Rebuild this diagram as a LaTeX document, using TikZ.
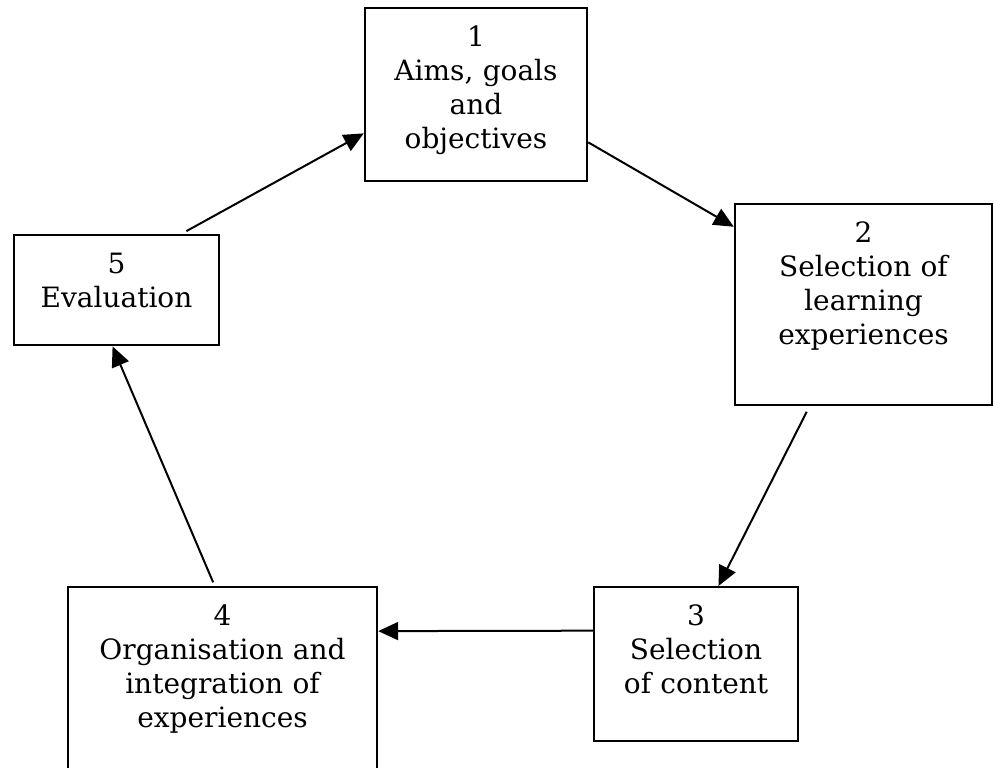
\documentclass[tikz,border=0pt]{standalone}
\usepackage{fontspec}
\setmainfont{DejaVu Serif}
\usetikzlibrary{arrows.meta}

\begin{document}
\begin{tikzpicture}[x=0.5pt, y=-0.5pt, >={Triangle[length=10pt, width=9pt]}, line width=1pt,
      every edge/.style={draw, ->},
      block_top/.style ={rectangle, draw=black, fill=white, line width=1.2pt,
      anchor=north, align=center, inner xsep=0pt, inner ysep=9pt,
      text height=10pt, font=\fontsize{14}{17}\selectfont}]
    \useasboundingbox (0,0) rectangle (994,767);
    \node[block_top, text width=111pt, text depth=58.5pt] (aims) at (476,7) {1\\Aims, goals\\and\\objectives};
    \node[block_top, text width=128.5pt, text depth=72.5pt] (learning) at (863.5,203) {2\\Selection of\\learning\\experiences};
    \node[block_top, text width=102pt, text depth=49pt] (content) at (696,586) {3\\Selection\\of content};
    \node[block_top, text width=154.5pt, text depth=82pt] (organise) at (222.5,586) {4\\Organisation and\\integration of\\experiences};
    \node[block_top, text width=102.5pt, text depth=27pt] (evaluation) at (116.5,234) {5\\Evaluation};
    \draw (aims.-23.6) edge (learning.149.2)
          (learning.242.9) edge[shorten <=3pt] (content.74.7)
          (content.162.1) edge (organise.23.1)
          (organise.94.9) edge[shorten <=2pt] (evaluation.266.4)
          (evaluation.41.8) edge[shorten <=3pt] (aims.199.6);
\end{tikzpicture}
\end{document}
